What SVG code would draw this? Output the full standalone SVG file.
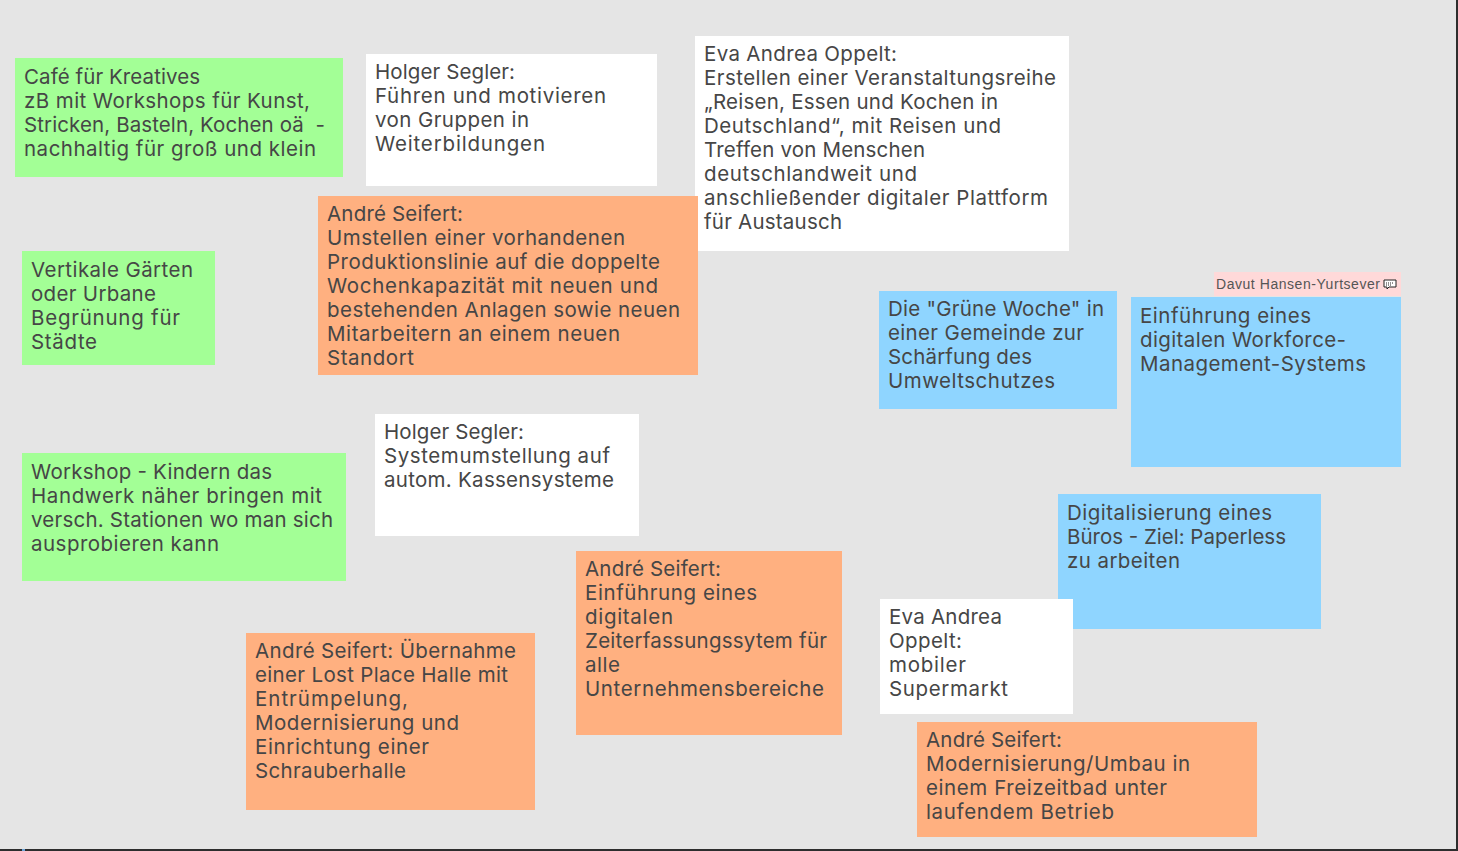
<svg xmlns="http://www.w3.org/2000/svg" width="1458" height="851" viewBox="0 0 1458 851">
<style>
.g{fill:#a3ff96}.w{fill:#fff}.o{fill:#ffb080}.b{fill:#8fd5ff}
text.t{font-family:"Inter","Liberation Sans",sans-serif;font-size:20.5px;fill:#464646;white-space:pre}
text.l{font-family:"Liberation Sans",Arial,sans-serif;font-size:14px;fill:#555}
</style>
<rect width="1458" height="851" fill="#e5e5e5"/>
<rect x="0" y="849" width="1458" height="2" fill="#2d2d2d"/>
<rect x="1456" y="0" width="2" height="851" fill="#2d2d2d"/>
<rect x="22" y="849" width="3" height="2" fill="#6fa8dc"/>
<g id="connectors"/>
<g id="n1"><rect class="g" x="15" y="58" width="328" height="119"/>
<text class="t" x="24" y="84" textLength="176">Café für Kreatives</text>
<text class="t" x="24" y="108" textLength="286">zB mit Workshops für Kunst,</text>
<text class="t" x="24" y="132" textLength="301" xml:space="preserve">Stricken, Basteln, Kochen oä  -</text>
<text class="t" x="24" y="156" textLength="292">nachhaltig für groß und klein</text></g>
<g id="n2"><rect class="w" x="366" y="54" width="291" height="132"/>
<text class="t" x="375" y="79" textLength="140">Holger Segler:</text>
<text class="t" x="375" y="103" textLength="231">Führen und motivieren</text>
<text class="t" x="375" y="127" textLength="154">von Gruppen in</text>
<text class="t" x="375" y="151" textLength="170">Weiterbildungen</text></g>
<g id="n3"><rect class="w" x="695" y="36" width="374" height="215"/>
<text class="t" x="704" y="61.400" textLength="193">Eva Andrea Oppelt:</text>
<text class="t" x="704" y="85.400" textLength="352">Erstellen einer Veranstaltungsreihe</text>
<text class="t" x="704" y="109.400" textLength="294">„Reisen, Essen und Kochen in</text>
<text class="t" x="704" y="133.400" textLength="297">Deutschland“, mit Reisen und</text>
<text class="t" x="704" y="157.400" textLength="221">Treffen von Menschen</text>
<text class="t" x="704" y="181.400" textLength="213">deutschlandweit und</text>
<text class="t" x="704" y="205.400" textLength="344">anschließender digitaler Plattform</text>
<text class="t" x="704" y="229.400" textLength="138">für Austausch</text></g>
<g id="n4"><rect class="o" x="318" y="196" width="380" height="179"/>
<text class="t" x="327" y="221" textLength="136">André Seifert:</text>
<text class="t" x="327" y="245" textLength="298">Umstellen einer vorhandenen</text>
<text class="t" x="327" y="269" textLength="333">Produktionslinie auf die doppelte</text>
<text class="t" x="327" y="293" textLength="331">Wochenkapazität mit neuen und</text>
<text class="t" x="327" y="317" textLength="353">bestehenden Anlagen sowie neuen</text>
<text class="t" x="327" y="341" textLength="293">Mitarbeitern an einem neuen</text>
<text class="t" x="327" y="365" textLength="87">Standort</text></g>
<g id="n5"><rect class="g" x="22" y="251" width="193" height="114"/>
<text class="t" x="31" y="277" textLength="162">Vertikale Gärten</text>
<text class="t" x="31" y="301" textLength="125">oder Urbane</text>
<text class="t" x="31" y="325" textLength="149">Begrünung für</text>
<text class="t" x="31" y="349" textLength="66">Städte</text></g>
<g id="n6"><rect class="g" x="22" y="453" width="324" height="128"/>
<text class="t" x="31" y="479" textLength="241">Workshop - Kindern das</text>
<text class="t" x="31" y="503" textLength="291">Handwerk näher bringen mit</text>
<text class="t" x="31" y="527" textLength="302">versch. Stationen wo man sich</text>
<text class="t" x="31" y="551" textLength="188">ausprobieren kann</text></g>
<g id="n7"><rect class="w" x="375" y="414" width="264" height="122"/>
<text class="t" x="384" y="439" textLength="140">Holger Segler:</text>
<text class="t" x="384" y="463" textLength="226">Systemumstellung auf</text>
<text class="t" x="384" y="487" textLength="230">autom. Kassensysteme</text></g>
<g id="n8"><rect class="o" x="576" y="551" width="266" height="184"/>
<text class="t" x="585" y="576" textLength="136">André Seifert:</text>
<text class="t" x="585" y="600" textLength="172">Einführung eines</text>
<text class="t" x="585" y="624" textLength="88">digitalen</text>
<text class="t" x="585" y="648" textLength="242">Zeiterfassungssytem für</text>
<text class="t" x="585" y="672" textLength="35">alle</text>
<text class="t" x="585" y="696" textLength="239">Unternehmensbereiche</text></g>
<g id="n9"><rect class="o" x="246" y="633" width="289" height="177"/>
<text class="t" x="255" y="658" textLength="261">André Seifert: Übernahme</text>
<text class="t" x="255" y="682" textLength="253">einer Lost Place Halle mit</text>
<text class="t" x="255" y="706" textLength="153">Entrümpelung,</text>
<text class="t" x="255" y="730" textLength="204">Modernisierung und</text>
<text class="t" x="255" y="754" textLength="174">Einrichtung einer</text>
<text class="t" x="255" y="778" textLength="151">Schrauberhalle</text></g>
<g id="n10"><rect class="b" x="879" y="291" width="238" height="118"/>
<text class="t" x="888" y="316" textLength="216">Die "Grüne Woche" in</text>
<text class="t" x="888" y="340" textLength="196">einer Gemeinde zur</text>
<text class="t" x="888" y="364" textLength="144">Schärfung des</text>
<text class="t" x="888" y="388" textLength="167">Umweltschutzes</text></g>
<g id="n11"><rect class="b" x="1131" y="297" width="270" height="170"/>
<text class="t" x="1140" y="323" textLength="171">Einführung eines</text>
<text class="t" x="1140" y="347" textLength="206">digitalen Workforce-</text>
<text class="t" x="1140" y="371" textLength="226">Management-Systems</text></g>
<g id="n12"><rect class="b" x="1058" y="494" width="263" height="135"/>
<text class="t" x="1067" y="520" textLength="205">Digitalisierung eines</text>
<text class="t" x="1067" y="544" textLength="219">Büros - Ziel: Paperless</text>
<text class="t" x="1067" y="568" textLength="113">zu arbeiten</text></g>
<g id="n13"><rect class="w" x="880" y="599" width="193" height="115"/>
<text class="t" x="889" y="624" textLength="113">Eva Andrea</text>
<text class="t" x="889" y="648" textLength="73">Oppelt:</text>
<text class="t" x="889" y="672" textLength="77">mobiler</text>
<text class="t" x="889" y="696" textLength="119">Supermarkt</text></g>
<g id="n14"><rect class="o" x="917" y="722" width="340" height="115"/>
<text class="t" x="926" y="747" textLength="136">André Seifert:</text>
<text class="t" x="926" y="771" textLength="264">Modernisierung/Umbau in</text>
<text class="t" x="926" y="795" textLength="241">einem Freizeitbad unter</text>
<text class="t" x="926" y="819" textLength="188">laufendem Betrieb</text></g>
<g id="n15"><rect x="1214" y="272" width="187" height="24" fill="#ffd9d9"/>
<text class="l" x="1216" y="289" textLength="164">Davut Hansen-Yurtsever</text>
<path d="M1384 280h12v7h-7l-2 2v-2h-3z" fill="#fff" stroke="#222" stroke-width="1"/>
<path d="M1386 283h8M1386 285h5" stroke="#222" stroke-width="1" stroke-dasharray="1 1"/></g>
</svg>
